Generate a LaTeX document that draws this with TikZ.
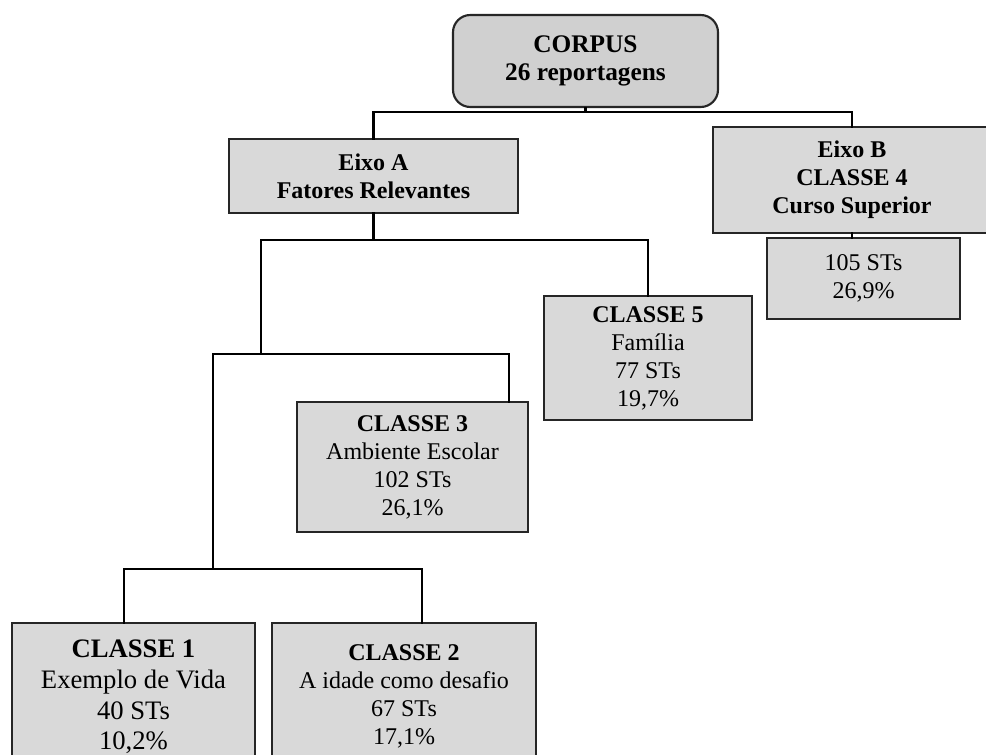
\documentclass[tikz,border=0pt]{standalone}
\usepackage{fontspec}
\setmainfont{Liberation Serif}
\begin{document}
\begin{tikzpicture}[x=0.75pt,y=-0.75pt,
  box/.style={draw=black!85,line width=1pt,fill=boxgray,inner sep=0pt,align=center,
    font=\fontsize{18}{21}\selectfont},
  bigbox/.style={box,font=\fontsize{20}{23}\selectfont},
  wire/.style={line width=2.2pt,line cap=rect}]
\definecolor{boxgray}{HTML}{D9D9D9}
\definecolor{corpgray}{HTML}{D0D0D0}
\useasboundingbox (0,0) rectangle (986,755);
\clip (0,0) rectangle (986,755);
% boxes
\node[box,fill=corpgray,line width=1.6pt,rounded corners=13pt,minimum width=265*0.75pt,minimum height=92*0.75pt,
  font=\fontsize{19}{21.5}\selectfont] (corpus) at (585.5,61) {\textbf{CORPUS}\\\textbf{26 reportagens}\rule[-4pt]{0pt}{4pt}};
\node[box,minimum width=289*0.75pt,minimum height=74*0.75pt] (eixoA) at (373.5,176) {\textbf{Eixo A}\\\textbf{Fatores Relevantes}};
\node[box,minimum width=278*0.75pt,minimum height=106*0.75pt] (eixoB) at (852,180) {\textbf{Eixo B}\\\textbf{CLASSE 4}\\\textbf{Curso Superior}};
\node[box,minimum width=193*0.75pt,minimum height=81*0.75pt] (c4) at (863.5,278.5) {105 STs\\26,9\%};
\node[box,minimum width=208*0.75pt,minimum height=124*0.75pt] (c5) at (648,358) {\textbf{CLASSE 5}\\Família\\77 STs\\19,7\%};
\node[box,minimum width=231*0.75pt,minimum height=130*0.75pt] (c3) at (412.5,467) {\textbf{CLASSE 3}\\Ambiente Escolar\\102 STs\\26,1\%};
\node[bigbox,minimum width=243*0.75pt,minimum height=148*0.75pt] (c1) at (133.5,697) {\textbf{CLASSE 1}\\Exemplo de Vida\\40 STs\\10,2\%};
\node[box,minimum width=264*0.75pt,minimum height=146*0.75pt] (c2) at (404,696) {\textbf{CLASSE 2}\\A idade como desafio\\67 STs\\17,1\%};
% bus coordinates
\coordinate (b1) at (613,112);
\coordinate (b2) at (450,240);
\coordinate (b2l) at (261,240);
\coordinate (b3) at (360,354);
\coordinate (b3l) at (213,354);
\coordinate (b4) at (270,569);
% connectors
\draw[wire] (corpus.south) -- (corpus.south |- b1);
\draw[wire] (eixoA.north) |- (b1) -| (eixoB.north);
\draw[wire] (eixoB.south) -- (c4.north -| eixoB.south);
\draw[wire] (eixoA.south) |- (b2);
\draw[wire] (b2l) -| (c5.north);
\draw[wire] (b2l) -- (b3l -| b2l);
\draw[wire] (b3l) -| (c3.north -| 509,0);
\draw[wire] (b3l) -- (b3l |- b4);
\draw[wire] (c1.north -| 124,0) |- (b4) -| (c2.north -| 422,0);
\end{tikzpicture}
\end{document}
